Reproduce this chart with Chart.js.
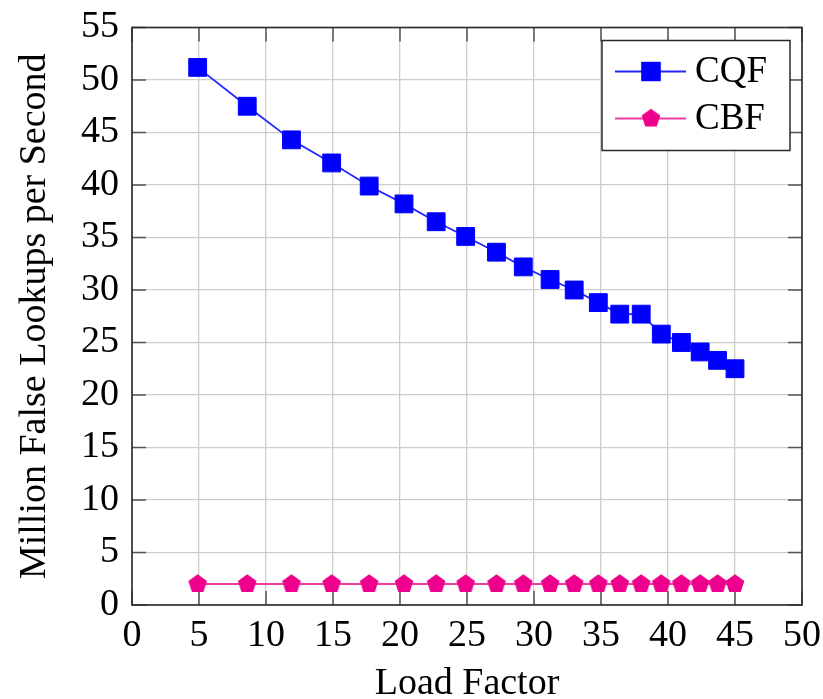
<!DOCTYPE html>
<html>
<head>
<meta charset="utf-8">
<script src="https://cdn.jsdelivr.net/npm/chart.js@4/dist/chart.umd.min.js"></script>
<style>
  html, body { margin: 0; padding: 0; background: #fff; }
  #wrap { width: 823px; height: 699px; }
</style>
</head>
<body>
<div id="wrap"><canvas id="c" width="823" height="699"></canvas></div>
<script>
// Load factor (x) for each measurement
const loadFactor = [4.9, 8.6, 11.9, 14.9, 17.7, 20.3, 22.7, 24.9, 27.2, 29.2, 31.2, 33.0, 34.8, 36.4, 38.0, 39.5, 41.0, 42.4, 43.7, 45.0];
// Million false lookups per second
const cqf = [51.2, 47.5, 44.3, 42.1, 39.9, 38.2, 36.5, 35.1, 33.6, 32.2, 31.0, 30.0, 28.8, 27.7, 27.7, 25.8, 25.0, 24.1, 23.3, 22.5];
const cbf = [2.0, 2.0, 2.0, 2.0, 2.0, 2.0, 2.0, 2.0, 2.0, 2.0, 2.0, 2.0, 2.0, 2.0, 2.0, 2.0, 2.0, 2.0, 2.0, 2.0];
const seriesNames = ['CQF', 'CBF'];
const xTicks = [0, 5, 10, 15, 20, 25, 30, 35, 40, 45, 50];
const yTicks = [0, 5, 10, 15, 20, 25, 30, 35, 40, 45, 50, 55];
const xTitle = 'Load Factor';
const yTitle = 'Million False Lookups per Second';

const SERIF = '"Liberation Serif", "DejaVu Serif", serif';
const BLUE = '#0000ff';
const MAGENTA = '#ec008c';

// pentagon marker sprite
function pentagonSprite(color, R) {
  const s = Math.ceil(2 * R + 2);
  const cv = document.createElement('canvas');
  cv.width = s; cv.height = s;
  const g = cv.getContext('2d');
  const cx = s / 2, cy = s / 2;
  g.beginPath();
  for (let i = 0; i < 5; i++) {
    const a = -Math.PI / 2 + i * 2 * Math.PI / 5;
    const px = cx + R * Math.cos(a), py = cy + R * Math.sin(a);
    if (i === 0) g.moveTo(px, py); else g.lineTo(px, py);
  }
  g.closePath();
  g.fillStyle = color;
  g.fill();
  return cv;
}
const pent = pentagonSprite(MAGENTA, 9.8);

const toPoints = ys => ys.map((y, i) => ({ x: loadFactor[i], y }));

// frame, inner tick marks on all four sides
const framePlugin = {
  id: 'frame',
  beforeDatasetsDraw(chart) {
    const { ctx, chartArea: a, scales: { x, y } } = chart;
    const L = 14;
    ctx.save();
    ctx.strokeStyle = '#555';
    ctx.lineWidth = 1.5;
    ctx.beginPath();
    xTicks.forEach(v => {
      const px = x.getPixelForValue(v);
      ctx.moveTo(px, a.bottom); ctx.lineTo(px, a.bottom - L);
      ctx.moveTo(px, a.top); ctx.lineTo(px, a.top + L);
    });
    yTicks.forEach(v => {
      const py = y.getPixelForValue(v);
      ctx.moveTo(a.left, py); ctx.lineTo(a.left + L, py);
      ctx.moveTo(a.right, py); ctx.lineTo(a.right - L, py);
    });
    ctx.stroke();
    ctx.strokeStyle = '#2a2a2a';
    ctx.lineWidth = 1.6;
    ctx.strokeRect(a.left, a.top, a.right - a.left, a.bottom - a.top);
    ctx.restore();
  }
};

// boxed legend in the upper right corner of the plot
const legendBoxPlugin = {
  id: 'legendBox',
  afterDraw(chart) {
    const { ctx, chartArea: a } = chart;
    const w = 188, h = 110;
    const bx = a.right - 12 - w, by = a.top + 13;
    ctx.save();
    ctx.fillStyle = '#fff';
    ctx.fillRect(bx, by, w, h);
    ctx.strokeStyle = '#2a2a2a';
    ctx.lineWidth = 1.5;
    ctx.strokeRect(bx, by, w, h);
    chart.data.datasets.forEach((ds, i) => {
      const ry = by + 31 + i * 47;
      ctx.strokeStyle = ds.borderColor;
      ctx.lineWidth = ds.borderWidth;
      ctx.beginPath();
      ctx.moveTo(bx + 13, ry); ctx.lineTo(bx + 84, ry);
      ctx.stroke();
      Chart.helpers.drawPoint(ctx, {
        pointStyle: ds.pointStyle,
        radius: ds.pointRadius,
        rotation: 0,
        borderWidth: ds.pointBorderWidth
      }, bx + 49, ry);
      if (ds.pointStyle === 'rect') {
        ctx.fillStyle = ds.pointBackgroundColor;
        ctx.strokeStyle = ds.pointBorderColor;
        ctx.lineWidth = ds.pointBorderWidth;
        ctx.fill(); ctx.stroke();
      }
      ctx.fillStyle = '#000';
      ctx.font = '37px ' + SERIF;
      ctx.textBaseline = 'middle';
      ctx.textAlign = 'left';
      ctx.fillText(ds.label, bx + 93, ry + 1);
    });
    ctx.restore();
  }
};

new Chart(document.getElementById('c'), {
  type: 'scatter',
  data: {
    datasets: [
      {
        label: seriesNames[0],
        data: toPoints(cqf),
        showLine: true,
        borderColor: '#2525ff',
        borderWidth: 1.8,
        pointStyle: 'rect',
        pointRadius: 12.6,
        pointBorderWidth: 1,
        pointBackgroundColor: BLUE,
        pointBorderColor: BLUE
      },
      {
        label: seriesNames[1],
        data: toPoints(cbf),
        showLine: true,
        borderColor: '#f03c9e',
        borderWidth: 1.8,
        pointStyle: pent,
        pointRadius: 10,
        pointBorderWidth: 0,
        pointBackgroundColor: MAGENTA,
        pointBorderColor: MAGENTA
      }
    ]
  },
  options: {
    responsive: false,
    animation: false,
    events: [],
    layout: { padding: { top: 27.5, right: 21, left: 0, bottom: 0 } },
    plugins: {
      legend: { display: false },
      tooltip: { enabled: false }
    },
    scales: {
      x: {
        type: 'linear',
        min: 0, max: 50,
        afterBuildTicks(s) { s.ticks = xTicks.map(v => ({ value: v })); },
        afterFit(s) { s.height = 94; s.paddingLeft = 0; s.paddingRight = 0; },
        grid: { color: '#cdcdcd', lineWidth: 1.3, drawTicks: false },
        border: { display: false },
        ticks: {
          padding: 8,
          color: '#000',
          font: { family: SERIF, size: 38 },
          maxRotation: 0,
          autoSkip: false
        },
        title: {
          display: true,
          text: xTitle,
          color: '#000',
          font: { family: SERIF, size: 38, lineHeight: 0.8 },
          padding: { top: 0, bottom: 0 }
        }
      },
      y: {
        type: 'linear',
        min: 0, max: 55,
        afterBuildTicks(s) { s.ticks = yTicks.map(v => ({ value: v })); },
        afterFit(s) { s.width = 132; s.paddingTop = 0; s.paddingBottom = 0; },
        grid: { color: '#cdcdcd', lineWidth: 1.3, drawTicks: false },
        border: { display: false },
        ticks: {
          padding: 13,
          color: '#000',
          font: { family: SERIF, size: 38 },
          autoSkip: false
        },
        title: {
          display: true,
          text: yTitle,
          color: '#000',
          font: { family: SERIF, size: 38, lineHeight: 1 },
          padding: { top: 16, bottom: 0 }
        }
      }
    }
  },
  plugins: [framePlugin, legendBoxPlugin]
});
</script>
</body>
</html>
